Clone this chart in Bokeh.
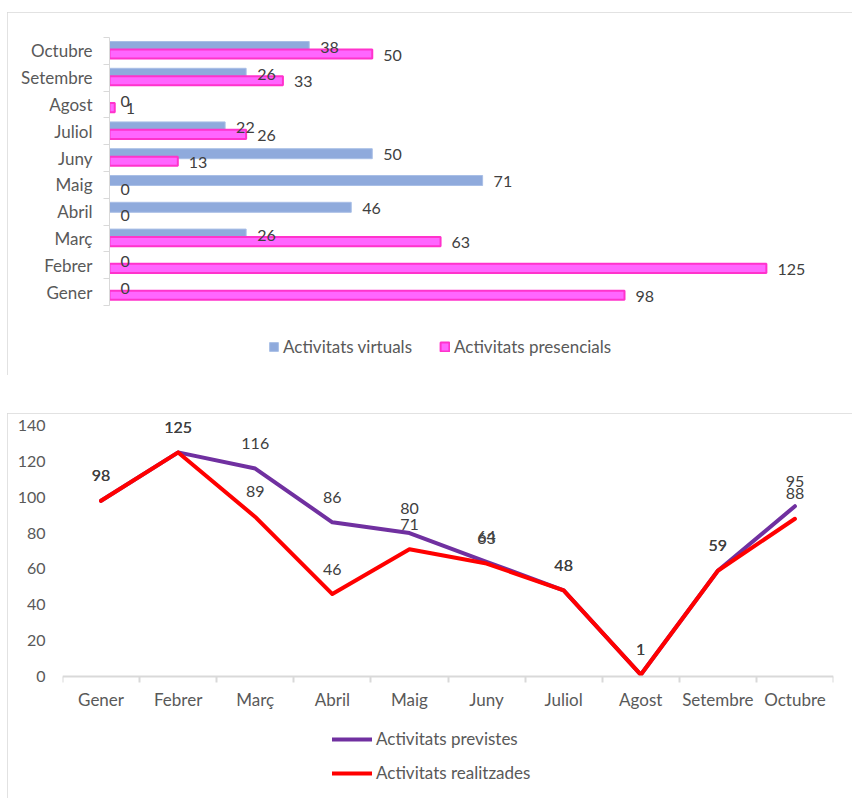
from bokeh.plotting import figure
from bokeh.models import ColumnDataSource, Range1d, FixedTicker, Legend, LegendItem
from bokeh.embed import file_html
from bokeh.resources import INLINE
from bokeh.core.properties import value
import numpy as np

months = ["Gener", "Febrer", "Març", "Abril", "Maig", "Juny", "Juliol", "Agost", "Setembre", "Octubre"]
virtuals = [0, 0, 26, 46, 71, 50, 22, 0, 26, 38]
presencials = [98, 125, 63, 0, 0, 13, 26, 1, 33, 50]
previstes = [98, 125, 116, 86, 80, 64, 48, 1, 59, 95]
realitzades = [98, 125, 89, 46, 71, 63, 48, 1, 59, 88]
y_ticks = [0, 20, 40, 60, 80, 100, 120, 140]

FONT = "Lato"
FS = "16px"
FS_CAT = "17px"
LABEL_C = "#404040"
AXIS_C = "#595959"
GRID_C = "#d9d9d9"
BOX = {"outline": "2px solid #d9d9d9", "outline-offset": "-2px"}

pos = np.arange(len(months)) + 0.5
bounds = list(range(len(months) + 1))
overrides = {float(p): m for p, m in zip(pos, months)}

# ---------------- top: horizontal bars ----------------
p1 = figure(width=845, height=363, output_backend="svg", toolbar_location=None,
            x_range=Range1d(0, 137.2), y_range=Range1d(-2.5, 10), x_axis_location=None,
            min_border_left=102, min_border_right=22, min_border_top=25, min_border_bottom=3)
p1.margin = (12, 0, 0, 7)
p1.outline_line_color = None
p1.grid.grid_line_color = None
p1.styles = BOX

src1 = ColumnDataSource(dict(
    yv=pos + 0.164, yp=pos - 0.116,
    virt=virtuals, pres=presencials,
    vl=[str(v) for v in virtuals], pl=[str(v) for v in presencials],
    pa=[1.0 if v > 0 else 0.0 for v in presencials],
    va=[1.0 if v > 0 else 0.0 for v in virtuals],
))

rv = p1.hbar(y="yv", left=0, right="virt", height=0.373, fill_color="#8faadc",
             line_color="#a9bfe6", line_width=1, fill_alpha="va", line_alpha="va", source=src1)
rp = p1.hbar(y="yp", left=0, right="pres", height=0.34, fill_color="#ff66ff",
             line_color="#ff33cc", line_width=2, fill_alpha="pa", line_alpha="pa", source=src1)

p1.text(x="virt", y="yv", text="vl", x_offset=11, y_offset=1, text_align="left",
        text_baseline="middle", text_font=value(FONT), text_font_size=FS,
        text_color=LABEL_C, source=src1)
p1.text(x="pres", y="yp", text="pl", x_offset=11, y_offset=1, text_align="left",
        text_baseline="middle", text_font=value(FONT), text_font_size=FS,
        text_color=LABEL_C, source=src1)

ya = p1.yaxis[0]
ya.bounds = (0, 10)
ya.ticker = FixedTicker(ticks=list(pos), minor_ticks=bounds)
ya.major_label_overrides = overrides
ya.axis_line_color = GRID_C
ya.major_tick_line_color = None
ya.major_tick_out = 0
ya.major_tick_in = 0
ya.minor_tick_line_color = GRID_C
ya.minor_tick_out = 6
ya.minor_tick_in = 0
ya.major_label_standoff = 11
ya.major_label_text_font = FONT
ya.major_label_text_font_size = FS_CAT
ya.major_label_text_color = AXIS_C

leg1 = Legend(items=[LegendItem(label="Activitats virtuals", renderers=[rv], index=2),
                     LegendItem(label="Activitats presencials", renderers=[rp], index=0)],
              orientation="horizontal", location=(159, 15),
              glyph_width=11, glyph_height=11, label_height=20, label_standoff=4, spacing=27,
              padding=4, margin=0, border_line_color=None, background_fill_alpha=0,
              label_text_font=FONT, label_text_font_size=FS_CAT, label_text_color=AXIS_C)
p1.add_layout(leg1)

# ---------------- bottom: lines ----------------
p2 = figure(width=845, height=385, output_backend="svg", toolbar_location=None,
            x_range=Range1d(0, 10), y_range=Range1d(-66.37, 142.8),
            min_border_left=55, min_border_right=19, min_border_top=7, min_border_bottom=3)
p2.margin = (38, 0, 0, 7)
p2.outline_line_color = None
p2.grid.grid_line_color = None
p2.styles = BOX

src2 = ColumnDataSource(dict(x=pos, prev=previstes, real=realitzades,
                             prl=[str(v) for v in previstes], rel=[str(v) for v in realitzades]))

lp = p2.line(x="x", y="prev", line_width=4, line_color="#7030a0", line_cap="round",
             line_join="round", source=src2)
lr = p2.line(x="x", y="real", line_width=4, line_color="#ff0000", line_cap="round",
             line_join="round", source=src2)

for col, lab in (("prev", "prl"), ("real", "rel")):
    p2.text(x="x", y=col, text=lab, y_offset=-25, text_align="center",
            text_baseline="middle", text_font=value(FONT), text_font_size=FS,
            text_color=LABEL_C, source=src2)

xa = p2.xaxis[0]
xa.fixed_location = 0
xa.ticker = FixedTicker(ticks=list(pos), minor_ticks=bounds)
xa.major_label_overrides = overrides
xa.axis_line_color = GRID_C
xa.axis_line_width = 2
xa.major_tick_line_color = None
xa.major_tick_out = 0
xa.major_tick_in = 0
xa.minor_tick_line_color = GRID_C
xa.minor_tick_line_width = 2
xa.minor_tick_out = 6
xa.minor_tick_in = 0
xa.major_label_standoff = 6
xa.major_label_text_font = FONT
xa.major_label_text_font_size = FS_CAT
xa.major_label_text_color = AXIS_C

ya2 = p2.yaxis[0]
ya2.bounds = (0, 140)
ya2.ticker = FixedTicker(ticks=y_ticks)
ya2.axis_line_color = None
ya2.major_tick_line_color = None
ya2.minor_tick_line_color = None
ya2.major_tick_out = 0
ya2.major_tick_in = 0
ya2.major_label_standoff = 17
ya2.major_label_text_font = FONT
ya2.major_label_text_font_size = FS
ya2.major_label_text_color = AXIS_C

leg2 = Legend(items=[LegendItem(label="Activitats previstes", renderers=[lp]),
                     LegendItem(label="Activitats realitzades", renderers=[lr])],
              orientation="vertical", location=(270, 12),
              glyph_width=40, glyph_height=18, label_height=20, label_standoff=4, spacing=13,
              padding=4, margin=0, border_line_color=None, background_fill_alpha=0,
              label_text_font=FONT, label_text_font_size=FS_CAT, label_text_color=AXIS_C)
p2.add_layout(leg2)

open("out.html", "w").write(file_html([p1, p2], INLINE))
